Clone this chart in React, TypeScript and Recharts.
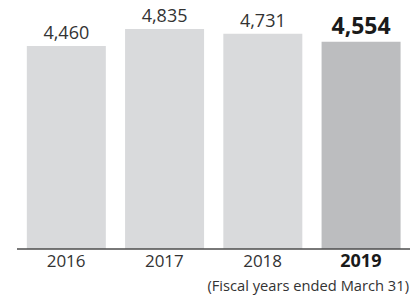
import React from "react";
import { BarChart, Bar, XAxis, YAxis, Cell, LabelList } from "recharts";

const years = ["2016", "2017", "2018", "2019"];
const values = [4460, 4835, 4731, 4554];
const highlightYear = "2019";

const data = years.map((year, i) => ({ year, value: values[i] }));

const FONT = "'Open Sans', 'DejaVu Sans', sans-serif";

function YearTick(props: any) {
  const { x, y, payload } = props;
  const bold = payload.value === highlightYear;
  return (
    <text
      x={x}
      y={y + 18}
      textAnchor="middle"
      fontFamily={FONT}
      fontSize={bold ? 18 : 17}
      fontWeight={bold ? 700 : 400}
      fill={bold ? "#1a1a1a" : "#333"}
    >
      {payload.value}
    </text>
  );
}

function ValueLabel(props: any) {
  const { x, y, width, value, index } = props;
  const bold = years[index] === highlightYear;
  return (
    <text
      x={x + width / 2}
      y={y - (bold ? 8 : 7)}
      textAnchor="middle"
      fontFamily={FONT}
      fontSize={bold ? 23 : 18}
      fontWeight={bold ? 700 : 400}
      fill={bold ? "#1a1a1a" : "#333"}
    >
      {value.toLocaleString("en-US")}
    </text>
  );
}

export default function App() {
  return (
    <div style={{ position: "absolute", left: 0, top: 0, width: 411, height: 298, background: "#fff" }}>
      <BarChart
        width={411}
        height={298}
        data={data}
        margin={{ top: 0, right: 1, left: 17, bottom: 0 }}
        barCategoryGap="10%"
      >
        <XAxis
          dataKey="year"
          height={49}
          tickSize={0}
          tickMargin={0}
          tickLine={false}
          axisLine={{ stroke: "#4d4d4d", strokeWidth: 1.3 }}
          tick={<YearTick />}
          interval={0}
        />
        <YAxis hide domain={[0, 5470]} />
        <Bar dataKey="value" isAnimationActive={false}>
          {data.map((d) => (
            <Cell key={d.year} fill={d.year === highlightYear ? "#bcbdbf" : "#d9dadc"} />
          ))}
          <LabelList dataKey="value" content={<ValueLabel />} />
        </Bar>
      </BarChart>
      <div
        style={{
          position: "absolute",
          right: 2,
          top: 275,
          fontFamily: FONT,
          fontSize: 14.7,
          color: "#333",
          whiteSpace: "nowrap",
        }}
      >
        (Fiscal years ended March 31)
      </div>
    </div>
  );
}
